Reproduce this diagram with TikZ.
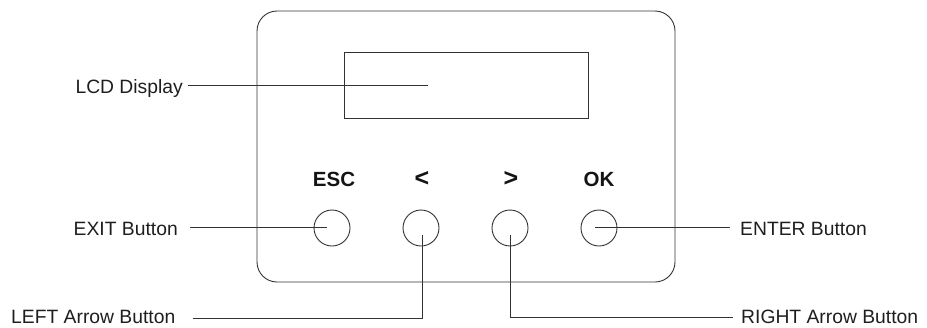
\documentclass[tikz,border=0pt]{standalone}
\usepackage{fontspec}
\setmainfont{Liberation Sans}
\usetikzlibrary{calc}
\begin{document}
\begin{tikzpicture}[x=1pt,y=-1pt,
  line/.style={draw={rgb,255:red,50;green,50;blue,50}, line width=0.9pt},
  lbl/.style={font=\fontsize{19.3}{22}\selectfont, text={rgb,255:red,30;green,30;blue,30}, inner sep=0pt},
  keylbl/.style={font=\fontsize{20.5}{22}\selectfont\bfseries, text={rgb,255:red,20;green,20;blue,20}, inner sep=0pt, anchor=base},
  chev/.style={keylbl, font=\fontsize{25}{26}\selectfont\bfseries},
  btn/.style={circle, line, minimum size=36pt, inner sep=0pt}]
\useasboundingbox (0,0) rectangle (927,327);
% housing
\node[line, rounded corners=20pt, minimum width=418pt, minimum height=271pt, inner sep=0pt] (case) at (466,146.5) {};
% LCD
\node[line, minimum width=244pt, minimum height=66pt, inner sep=0pt] (lcd) at (466,85) {};
% buttons
\node[btn] (esc) at (332,228) {};
\node[btn] (left) at (421,228) {};
\node[btn] (right) at (510,228) {};
\node[btn] (ok) at (599,228) {};
% key labels
\node[keylbl] (escl) at (334,186) {ESC};
\node[chev] (leftl) at (422,186.5) {<};
\node[chev] (rightl) at (511,186.5) {>};
\node[keylbl] (okl) at (599,186) {OK};
% callout labels
\node[lbl, anchor=base east] (lcdt) at (183,93) {LCD Display};
\node[lbl, anchor=base east] (exitt) at (178,235) {EXIT Button};
\node[lbl, anchor=base west] (leftt) at (11,323) {LEFT Arrow Button};
\node[lbl, anchor=base west] (entert) at (740,235) {ENTER Button};
\node[lbl, anchor=base west] (rightt) at (741,323) {RIGHT Arrow Button};
% leader endpoints
\coordinate (lcdp) at (428,85);
\coordinate (escp) at (327,227);
\coordinate (leftp) at (422,235);
\coordinate (rightp) at (510,235);
\coordinate (okp) at (595,227);
% leaders
\draw[line] ($(lcdt.east |- lcdp)+(5,0)$) -- (lcdp);
\draw[line] ($(exitt.east |- escp)+(12,0)$) -- (escp);
\draw[line] ($(leftt.east |- 0,318)+(17,0)$) -- (leftp |- 0,318) -- (leftp);
\draw[line] (rightp) -- (rightp |- 0,317) -- ($(rightt.west |- 0,317)+(-8,0)$);
\draw[line] (okp) -- ($(entert.west |- okp)+(-10,0)$);
\end{tikzpicture}
\end{document}
